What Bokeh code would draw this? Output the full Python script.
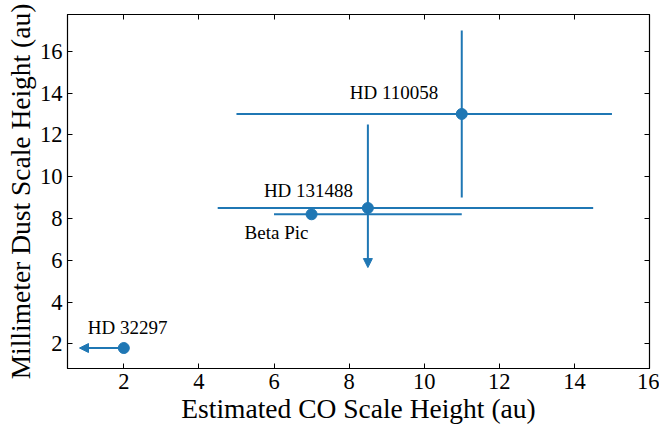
from bokeh.plotting import figure
from bokeh.models import (ColumnDataSource, Range1d, LinearAxis, SingleIntervalTicker,
                          CustomJSTickFormatter, Arrow, NormalHead)
from bokeh.core.properties import value
from bokeh.embed import file_html
from bokeh.resources import INLINE

# ---- data ----
star = ["HD 110058", "HD 131488", "Beta Pic", "HD 32297"]
co_h = [11.0, 8.5, 7.0, 2.0]          # estimated CO scale height (au)
dust_h = [13.0, 8.5, 8.2, 1.8]        # millimeter dust scale height (au)
co_lo = [5.0, 4.5, 6.0, 2.0]
co_hi = [15.0, 14.5, 11.0, 2.0]
dust_lo = [9.0, 8.5, 8.2, 1.8]
dust_hi = [17.0, 12.5, 8.2, 1.8]
# upper limits (arrows)
lim_x0 = [8.5, 2.0]
lim_y0 = [8.5, 1.8]
lim_x1 = [8.5, 0.82]
lim_y1 = [5.65, 1.8]
x_ticks_interval = 2
y_ticks_interval = 2

# label offsets in screen pixels (annotation placement)
lab_dx = [-112, -104, -67, -36]
lab_dy = [-21, -18, 18, -21]

BLUE = "#1f77b4"
FONT = "Liberation Serif"

p = figure(width=659, height=428, output_backend="svg", toolbar_location=None,
           x_range=Range1d(0.5, 16.0), y_range=Range1d(0.82, 17.76),
           min_border_left=67, min_border_right=10, min_border_top=14, min_border_bottom=60)
p.background_fill_color = "white"
p.border_fill_color = "white"
p.outline_line_color = "black"
p.outline_line_width = 1.2
p.grid.visible = False

for ax in (p.xaxis[0], p.yaxis[0]):
    ax.major_tick_in = 5
    ax.major_tick_out = 0
    ax.minor_tick_line_color = None
    ax.major_tick_line_color = "black"
    ax.axis_line_color = "black"
    ax.major_label_text_font = FONT
    ax.major_label_text_font_size = "22.5px"
    ax.major_label_text_color = "black"
    ax.axis_label_text_font = FONT
    ax.axis_label_text_font_size = "27.5px"
    ax.axis_label_text_font_style = "normal"
    ax.axis_label_text_color = "black"

p.xaxis[0].ticker = SingleIntervalTicker(interval=x_ticks_interval, num_minor_ticks=0)
p.yaxis[0].ticker = SingleIntervalTicker(interval=y_ticks_interval, num_minor_ticks=0)
p.xaxis[0].axis_label = "Estimated CO Scale Height (au)"
p.yaxis[0].axis_label = "Millimeter Dust Scale Height (au)"
p.xaxis[0].major_label_standoff = 5
p.xaxis[0].axis_label_standoff = 1
p.yaxis[0].major_label_standoff = 5
p.yaxis[0].axis_label_standoff = 1

blank = CustomJSTickFormatter(code="return ''")
top = LinearAxis(ticker=SingleIntervalTicker(interval=x_ticks_interval, num_minor_ticks=0),
                 formatter=blank, major_tick_in=5, major_tick_out=0,
                 minor_tick_line_color=None, major_label_standoff=0,
                 major_label_text_font_size="1px", axis_line_color="black")
right = LinearAxis(ticker=SingleIntervalTicker(interval=y_ticks_interval, num_minor_ticks=0),
                   formatter=blank, major_tick_in=5, major_tick_out=0,
                   minor_tick_line_color=None, major_label_standoff=0,
                   major_label_text_font_size="1px", axis_line_color="black")
p.add_layout(top, "above")
p.add_layout(right, "right")

# error bars (only non-degenerate ones)
hx0, hx1, hy = [], [], []
vy0, vy1, vx = [], [], []
for i in range(len(star)):
    if co_hi[i] != co_lo[i]:
        hx0.append(co_lo[i]); hx1.append(co_hi[i]); hy.append(dust_h[i])
    if dust_hi[i] != dust_lo[i]:
        vy0.append(dust_lo[i]); vy1.append(dust_hi[i]); vx.append(co_h[i])

p.segment(x0=hx0, x1=hx1, y0=hy, y1=hy, line_color=BLUE, line_width=2)
p.segment(x0=vx, x1=vx, y0=vy0, y1=vy1, line_color=BLUE, line_width=2)

lim_src = ColumnDataSource(dict(x0=lim_x0, y0=lim_y0, x1=lim_x1, y1=lim_y1))
p.add_layout(Arrow(end=NormalHead(size=9, fill_color=BLUE, line_color=BLUE, line_width=1),
                   x_start="x0", y_start="y0", x_end="x1", y_end="y1",
                   line_color=BLUE, line_width=2, source=lim_src))

src = ColumnDataSource(dict(x=co_h, y=dust_h, name=star, dx=lab_dx, dy=lab_dy))
p.scatter("x", "y", source=src, size=11, color=BLUE)
p.text("x", "y", text="name", source=src, x_offset="dx", y_offset="dy",
       text_font=value(FONT), text_font_size="19px", text_color="black",
       text_align="left", text_baseline="alphabetic")

open("out.html", "w").write(file_html(p, INLINE))
